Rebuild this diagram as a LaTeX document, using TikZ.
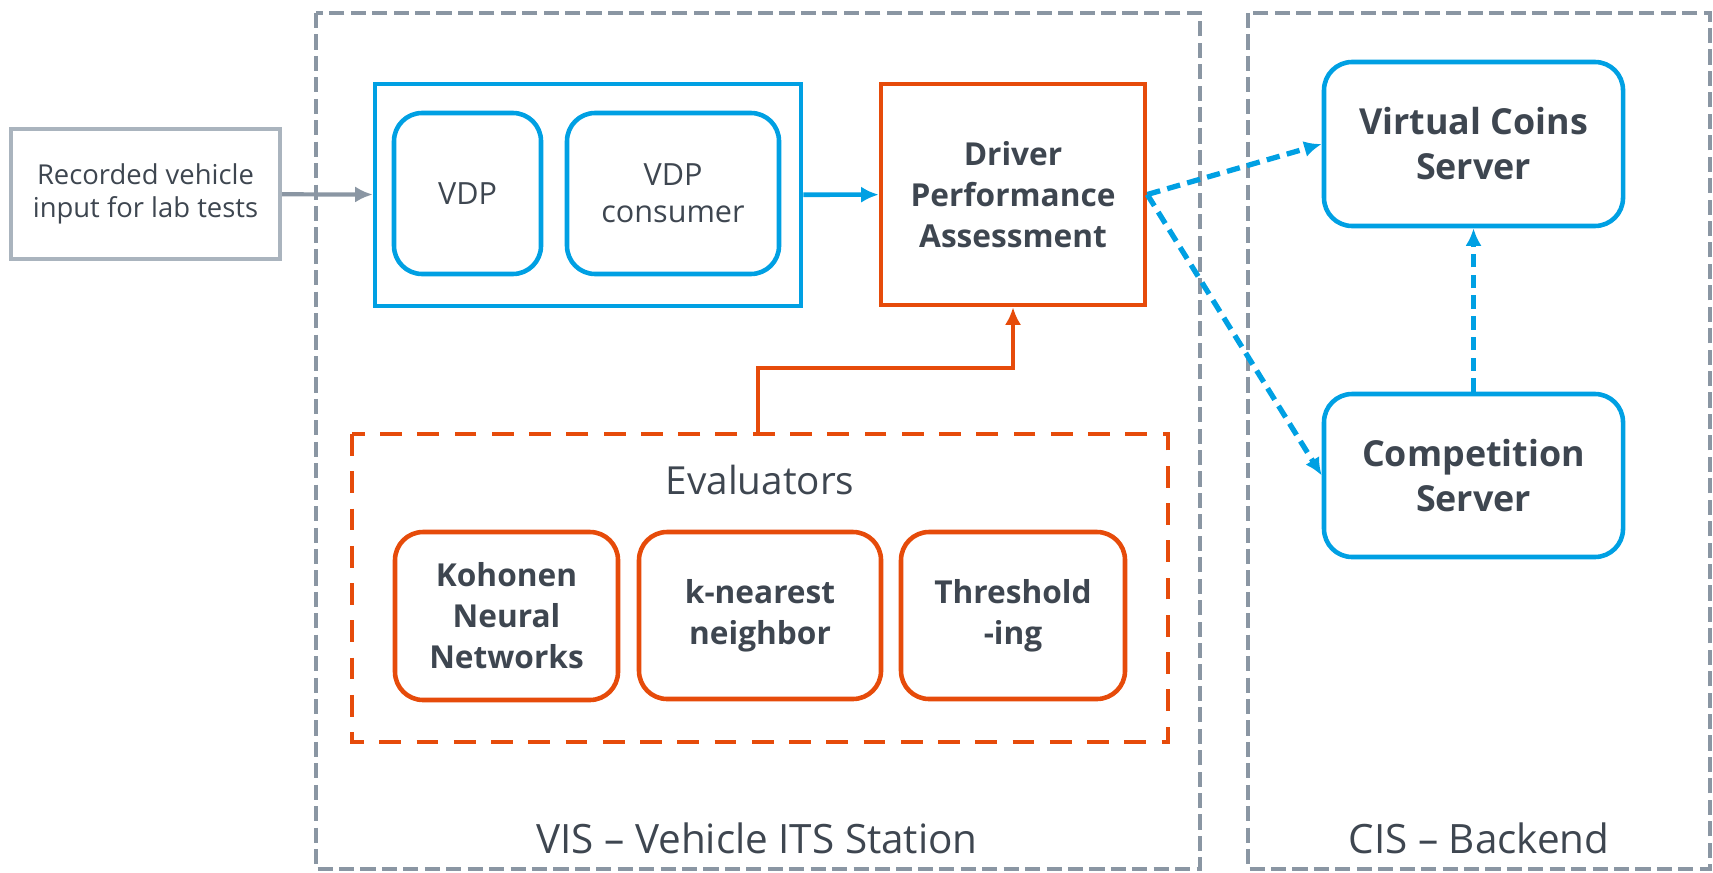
\documentclass[tikz,border=0pt]{standalone}
\usepackage{fontspec}
\setmainfont{Open Sans}
\usetikzlibrary{arrows.meta}
\usetikzlibrary{positioning}

\definecolor{vblue}{RGB}{0,160,227}
\definecolor{vorange}{RGB}{230,75,10}
\definecolor{framegray}{RGB}{138,150,163}
\definecolor{recgray}{RGB}{170,180,190}
\definecolor{txt}{RGB}{62,70,80}

\tikzset{
  frame/.style={draw=framegray, line width=1.15pt, dash pattern=on 4.3pt off 1.8pt},
  bluebox/.style={draw=vblue, line width=1.3pt, rounded corners=8pt, align=center, text=txt},
  orangebox/.style={draw=vorange, line width=1.3pt, rounded corners=8pt, align=center, text=txt,
    font=\fontsize{9}{11.7}\selectfont\bfseries},
  plain/.style={text=txt, align=center},
  tip/.style={-{Latex[length=5pt,width=4.6pt]}},
  bluedash/.style={draw=vblue, line width=1.5pt, dash pattern=on 3.8pt off 2.1pt, tip},
}

\begin{document}
\begin{tikzpicture}
        \useasboundingbox (0,0) rectangle (17.13,-8.72);

        % Stations
        \draw[frame] (3.16,-0.13) rectangle (12.00,-8.69);
        \draw[frame] (12.48,-0.13) rectangle (17.10,-8.69);
        \node[plain, font=\fontsize{11.5}{13}\selectfont] (vislabel) at (7.57,-8.38) {VIS -- Vehicle ITS Station};
        \node[plain, font=\fontsize{11.5}{13}\selectfont] (cislabel) at (14.79,-8.38) {CIS -- Backend};

        % Input
        \node[draw=recgray, line width=1.2pt, minimum width=2.69cm, minimum height=1.30cm, plain,
          font=\fontsize{7.8}{9.6}\selectfont] (rec) at (1.455,-1.94) {Recorded vehicle\\input for lab tests};

        % VDP
        \node[draw=vblue, line width=1.3pt, minimum width=4.26cm, minimum height=2.22cm] (vdpbox) at (5.88,-1.95) {};
        \node[bluebox, minimum width=1.47cm, minimum height=1.61cm, font=\fontsize{8.7}{10.5}\selectfont] (vdp) at (4.675,-1.935) {VDP};
        \node[bluebox, minimum width=2.12cm, minimum height=1.61cm, font=\fontsize{8.7}{10.5}\selectfont] (cons) at (6.73,-1.935) {VDP\\consumer};

        % Assessment
        \node[draw=vorange, line width=1.3pt, minimum width=2.64cm, minimum height=2.21cm, plain,
          font=\fontsize{9}{11.7}\selectfont\bfseries] (dpa) at (10.13,-1.945) {Driver\\Performance\\Assessment};

        % Servers
        \node[bluebox, minimum width=2.99cm, minimum height=1.64cm, font=\fontsize{10.2}{12.8}\selectfont\bfseries] (vcs) at (14.735,-1.44) {Virtual Coins\\Server};
        \node[bluebox, minimum width=2.99cm, minimum height=1.63cm, font=\fontsize{10.2}{12.8}\selectfont\bfseries] (comp) at (14.735,-4.755) {Competition\\Server};

        % Evaluators
        \draw[draw=vorange, line width=1.3pt, dash pattern=on 6.2pt off 4.4pt] (3.52,-4.34) rectangle (11.68,-7.42);
        \coordinate (evaltop) at (7.58,-4.34);
        \node[plain, font=\fontsize{11}{13}\selectfont] (evallabel) at (7.60,-4.80) {Evaluators};
        \node[orangebox, minimum width=2.23cm, minimum height=1.68cm] (koh) at (5.065,-6.16) {Kohonen\\Neural\\Networks};
        \node[orangebox, minimum width=2.42cm, minimum height=1.67cm] (knn) at (7.60,-6.155) {k-nearest\\neighbor};
        \node[orangebox, minimum width=2.24cm, minimum height=1.67cm] (thr) at (10.13,-6.155) {Threshold\\-ing};

        % Connections
        \draw[tip, line width=1.2pt, framegray] (rec) -- (vdpbox);
        \draw[tip, line width=1.3pt, vblue] (vdpbox) -- (dpa);
        \draw[tip, line width=1.4pt, vorange] (evaltop) |- (7.58,-3.68) -| (dpa.south);
        \draw[bluedash] (dpa.east) -- (vcs.west);
        \draw[bluedash] (dpa.east) -- (comp.west);
        \draw[bluedash] (comp) -- (vcs);
      \end{tikzpicture}
\end{document}
